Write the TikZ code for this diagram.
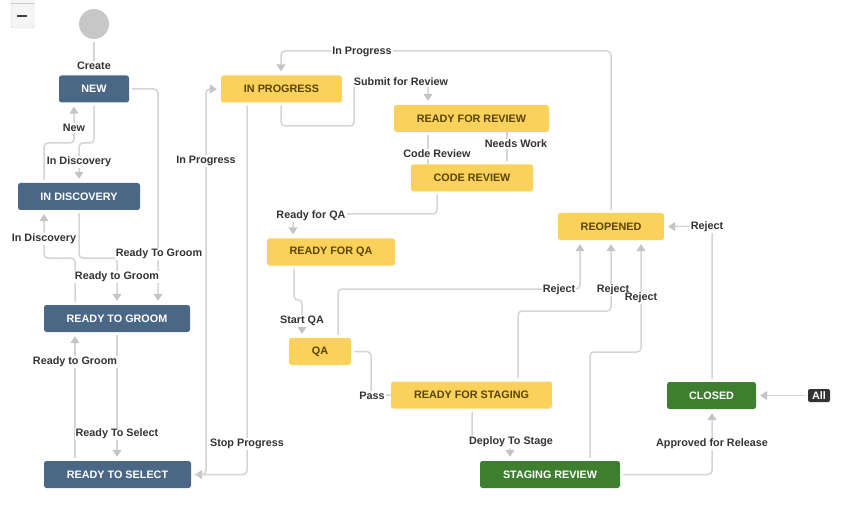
\documentclass[tikz,border=0pt]{standalone}
\usepackage{fontspec}
\setmainfont{Liberation Sans}
\usetikzlibrary{arrows.meta}
\definecolor{jblue}{HTML}{4A6785}
\definecolor{jyellow}{HTML}{FAD15A}
\definecolor{jytext}{HTML}{594300}
\definecolor{jgreen}{HTML}{3D7F2F}
\definecolor{lineg}{HTML}{D4D4D4}
\definecolor{arrg}{HTML}{C4C4C4}
\definecolor{lbltext}{HTML}{333333}
\tikzset{
  x=1pt, y=-1pt,
  stbox/.style={rounded corners=2.5pt, minimum height=27pt, inner sep=0pt,
    font=\bfseries\fontsize{10.8}{12}\selectfont},
  bluebox/.style={stbox, fill=jblue, text=white},
  yelbox/.style={stbox, fill=jyellow, text=jytext},
  grnbox/.style={stbox, fill=jgreen, text=white},
  conn/.style={draw=lineg, line width=1.5pt, rounded corners=4pt,
    shorten <=3pt},
  arr/.style={-{Triangle[length=7pt,width=9pt,color=arrg]}, shorten >=4pt},
  lbl/.style={fill=white, inner sep=1pt, text=lbltext,
    font=\bfseries\fontsize{10.8}{12}\selectfont},
}
\begin{document}
\begin{tikzpicture}
\useasboundingbox (0,0) rectangle (861,521);
% zoom button
\draw[draw=black!20, fill=black!4, rounded corners=2pt] (11,-6) rectangle (34,28);
\draw[draw=black!20] (11,3) -- (34,3);
\draw[line width=1.5pt, draw=black!75] (17,16) -- (27,16);

% states
\node[circle, fill=black!22, minimum size=30pt, inner sep=0pt] (start) at (94,24) {};
\node[bluebox, minimum width=70pt] (new) at (94,89) {NEW};
\node[bluebox, minimum width=122pt] (indisc) at (79,196.5) {IN DISCOVERY};
\node[bluebox, minimum width=146pt] (groom) at (117,318.5) {READY TO GROOM};
\node[bluebox, minimum width=147pt] (select) at (117.5,474.5) {READY TO SELECT};
\node[yelbox, minimum width=121pt] (inprog) at (281.5,89) {IN PROGRESS};
\node[yelbox, minimum width=155pt] (rfr) at (471.5,118.5) {READY FOR REVIEW};
\node[yelbox, minimum width=122pt] (cr) at (472,178) {CODE REVIEW};
\node[yelbox, minimum width=128pt] (rfqa) at (331,252) {READY FOR QA};
\node[yelbox, minimum width=62pt] (qa) at (320,351.5) {QA};
\node[yelbox, minimum width=161pt] (rfs) at (471.5,395) {READY FOR STAGING};
\node[yelbox, minimum width=106pt] (reopened) at (611,226.5) {REOPENED};
\node[grnbox, minimum width=89pt] (closed) at (711.5,395.5) {CLOSED};
\node[grnbox, minimum width=140pt] (sr) at (550,474.5) {STAGING REVIEW};
\node[rounded corners=2pt, fill=black!80, text=white, inner sep=0pt,
  minimum width=22pt, minimum height=13pt,
  font=\bfseries\fontsize{10.8}{12}\selectfont] (all) at (819,395.5) {All};

% connectors
\draw[conn] (start) -- (94,62);
\draw[conn, arr] (new.south -| 94,0) -- (94,143) -- (79,143) -- (indisc.north -| 79,0);
\draw[conn, arr] (indisc.north -| 44,0) -- (44,143) -- (74,143) -- (new.south -| 74,0);
\draw[conn, arr] (new.east) -- (158,89) -- (groom.north -| 158,0);
\draw[conn, arr] (indisc.south -| 79,0) -- (79,258) -- (117,258) -- (groom.north -| 117,0);
\draw[conn, arr] (groom.north -| 75,0) -- (75,258) -- (44,258) -- (indisc.south -| 44,0);
\draw[conn, arr] (select.north -| 75,0) -- (groom.south -| 75,0);
\draw[conn, arr] (groom.south -| 117,0) -- (select.north -| 117,0);
\draw[conn, arr] (inprog.south -| 247,0) -- (247,474.5) -- (select.east);
\draw[conn, arr] (select.east) -- (206,474.5) -- (206,89) -- (inprog.west);
\draw[conn, arr] (inprog.south -| 281,0) -- (281,126) -- (354,126) -- (354,81) -- (428,81) -- (rfr.north -| 428,0);
\draw[conn] (rfr.south -| 428,0) -- (cr.north -| 428,0);
\draw[conn] (cr.north -| 507,0) -- (rfr.south -| 507,0);
\draw[conn, arr] (cr.south -| 437,0) -- (437,214) -- (293,214) -- (rfqa.north -| 293,0);
\draw[conn, arr] (rfqa.south -| 294,0) -- (294,300) -- (302,300) -- (qa.north -| 302,0);
\draw[conn] (qa.east) -- (371,351.5) -- (371,395) -- (rfs.west);
\draw[conn, arr] (qa.north -| 338,0) -- (338,289) -- (580,289) -- (reopened.south -| 580,0);
\draw[conn, arr] (rfs.north -| 518,0) -- (518,311) -- (611,311) -- (reopened.south -| 611,0);
\draw[conn, arr] (sr.north -| 590,0) -- (590,352) -- (641,352) -- (reopened.south -| 641,0);
\draw[conn, arr] (closed.north -| 712,0) -- (712,226.5) -- (reopened.east);
\draw[conn, arr] (rfs.south -| 472,0) -- (472,441) -- (510,441) -- (sr.north -| 510,0);
\draw[conn, arr] (sr.east) -- (712,474.5) -- (closed.south -| 712,0);
\draw[conn, arr] (all.west) -- (closed.east);
\draw[conn, arr] (reopened.north) -- (611,51) -- (281,51) -- (inprog.north -| 281,0);

% labels
\node[lbl] (lcreate) at (94,66) {Create};
\node[lbl] (lnew) at (74,128) {New};
\node[lbl] (lindisc1) at (79,162) {In Discovery};
\node[lbl] (lrtg1) at (159,254) {Ready To Groom};
\node[lbl] (lrtg2) at (117,277) {Ready to Groom};
\node[lbl] (lindisc2) at (44,239) {In Discovery};
\node[lbl] (lrtg3) at (75,362) {Ready to Groom};
\node[lbl] (lrts) at (117,434) {Ready To Select};
\node[lbl] (linprog1) at (206,161) {In Progress};
\node[lbl] (lstop) at (247,444) {Stop Progress};
\node[lbl] (linprog2) at (362,52) {In Progress};
\node[lbl] (lsubmit) at (401,82) {Submit for Review};
\node[lbl] (lcode) at (437,154) {Code Review};
\node[lbl] (lneeds) at (516,144) {Needs Work};
\node[lbl] (lrfqa) at (311,216) {Ready for QA};
\node[lbl] (lstart) at (302,321) {Start QA};
\node[lbl] (lpass) at (372,396) {Pass};
\node[lbl] (lrej1) at (559,290) {Reject};
\node[lbl] (lrej2) at (613,290) {Reject};
\node[lbl] (lrej3) at (641,298) {Reject};
\node[lbl] (lrej4) at (707,227) {Reject};
\node[lbl] (ldeploy) at (511,442) {Deploy To Stage};
\node[lbl] (lapproved) at (712,444) {Approved for Release};
\end{tikzpicture}
\end{document}
